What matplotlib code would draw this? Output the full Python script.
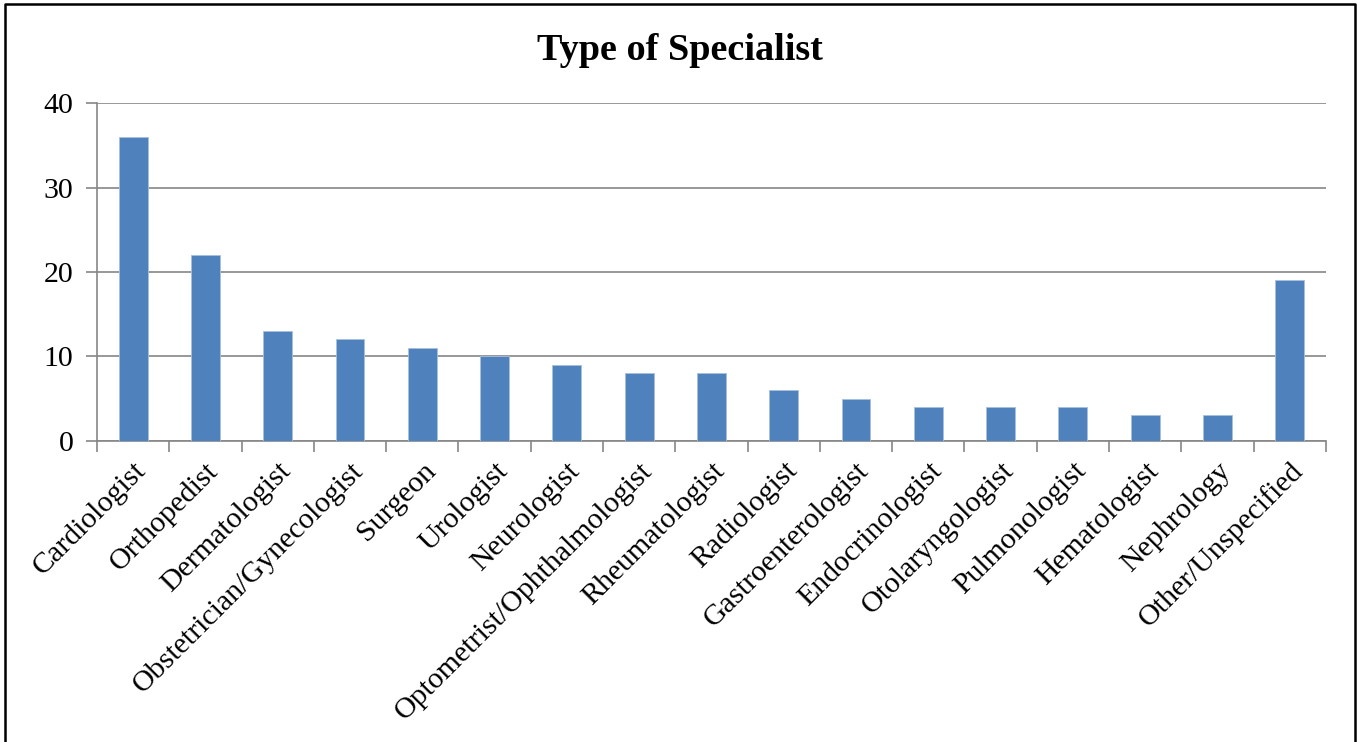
import matplotlib.pyplot as plt
import numpy as np

plt.rcParams['font.family'] = ['Liberation Serif', 'DejaVu Serif']

specialists = ['Cardiologist', 'Orthopedist', 'Dermatologist', 'Obstetrician/Gynecologist',
               'Surgeon', 'Urologist', 'Neurologist', 'Optometrist/Ophthalmologist',
               'Rheumatologist', 'Radiologist', 'Gastroenterologist', 'Endocrinologist',
               'Otolaryngologist', 'Pulmonologist', 'Hematologist', 'Nephrology',
               'Other/Unspecified']
counts = [36, 22, 13, 12, 11, 10, 9, 8, 8, 6, 5, 4, 4, 4, 3, 3, 19]

fig = plt.figure(figsize=(13.57, 7.42), dpi=100)
ax = fig.add_axes([0.0715, 0.406, 0.9055, 0.455])

x = np.arange(len(specialists))
ax.bar(x, counts, width=0.4, color='#4F81BD', edgecolor='#A7C0DE', linewidth=0.6, zorder=3)

ax.set_xlim(-0.5, len(specialists) - 0.5)
ax.set_ylim(0, 40)
ax.set_yticks([0, 10, 20, 30, 40])
ax.grid(axis='y', color='#868686', linewidth=1.2, zorder=0)

# метки по оси x между столбцами
ax.set_xticks(np.arange(-0.5, len(specialists)), minor=True)
ax.set_xticks(x)
ax.set_xticklabels(specialists, rotation=45, ha='right', rotation_mode='anchor', fontsize=21.5)
ax.tick_params(axis='x', which='major', length=0, pad=12)
ax.tick_params(axis='x', which='minor', length=8, width=1.2, color='#868686')
ax.tick_params(axis='y', length=8, width=1.2, color='#868686', labelsize=21.5, pad=9)

for side in ['top', 'right']:
    ax.spines[side].set_visible(False)
for side in ['left', 'bottom']:
    ax.spines[side].set_color('#868686')
    ax.spines[side].set_linewidth(1.2)

fig.text(0.501, 0.932, 'Type of Specialist', ha='center', va='center',
         fontsize=27.5, fontweight='bold')

# рамка вокруг рисунка (без нижней стороны)
fx = [4.5 / 1357, 4.5 / 1357, 1354.5 / 1357, 1354.5 / 1357]
fy = [0, 1 - 3.5 / 742, 1 - 3.5 / 742, 0]
fig.add_artist(plt.Line2D(fx, fy, transform=fig.transFigure, color='black', linewidth=1.8))

fig.savefig('out.png', dpi=100)
